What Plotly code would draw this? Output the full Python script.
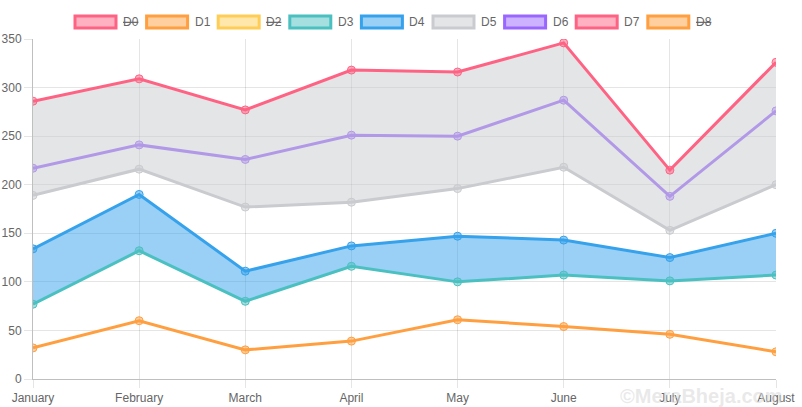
import plotly.graph_objects as go

months = ["January", "February", "March", "April", "May", "June", "July", "August"]
d1 = [32, 60, 30, 39, 61, 54, 46, 28]
d3 = [77, 132, 80, 116, 100, 107, 101, 107]
d4 = [134, 190, 111, 137, 147, 143, 125, 150]
d5 = [189, 216, 177, 182, 196, 218, 153, 200]
d6 = [217, 241, 226, 251, 250, 287, 188, 276]
d7 = [286, 309, 277, 318, 316, 346, 215, 326]

legend_names = ["D0", "D1", "D2", "D3", "D4", "D5", "D6", "D7", "D8"]
legend_hidden = [True, False, True, False, False, False, False, False, True]
y_ticks = [0, 50, 100, 150, 200, 250, 300, 350]

C = {
    "red": (255, 99, 132), "orange": (255, 159, 64), "yellow": (255, 205, 86),
    "green": (75, 192, 192), "blue": (54, 162, 235), "grey": (201, 203, 207),
    "purple": (153, 102, 255),
}
legend_colors = ["red", "orange", "yellow", "green", "blue", "grey", "purple", "red", "orange"]

def rgb(c, a=1.0):
    r, g, b = C[c]
    return f"rgba({r},{g},{b},{a})"

W, H = 802, 407
ML, MR, MT, MB = 33, 26, 39, 28
PW, PH = W - ML - MR, H - MT - MB

def px_x(px):
    return (px - ML) / PW

def px_y(py):
    return (H - MB - py) / PH

fig = go.Figure()

def line(y, c, fill=None, fillc=None):
    fig.add_trace(go.Scatter(
        x=months, y=y, mode="lines+markers", showlegend=False,
        line=dict(color=rgb(c), width=3),
        marker=dict(size=8, color=rgb(c, 0.5), line=dict(color=rgb(c), width=1)),
        fill=fill, fillcolor=fillc, hoverinfo="skip"))

line(d1, "orange")
line(d3, "green")
line(d4, "blue", "tonexty", rgb("blue", 0.5))
line(d6, "purple")
line(d7, "red")
line(d5, "grey", "tonexty", rgb("grey", 0.5))

# Chart.js style legend: boxes + labels
step = 71.6
for i, (name, hid, c) in enumerate(zip(legend_names, legend_hidden, legend_colors)):
    x0 = 75 + i * step
    fig.add_shape(type="rect", xref="paper", yref="paper",
                  x0=px_x(x0), x1=px_x(x0 + 41), y0=px_y(28), y1=px_y(16),
                  fillcolor=rgb(c, 0.5), line=dict(color=rgb(c), width=3))
    fig.add_annotation(xref="paper", yref="paper", x=px_x(x0 + 46), y=px_y(22),
                       text=f"<s>{name}</s>" if hid else name, showarrow=False,
                       xanchor="left", yanchor="middle",
                       font=dict(size=12, color="#666"))

fig.add_annotation(x=px_x(618), y=px_y(396), xref="paper", yref="paper", text="<b>©MeraBheja.com</b>",
                   showarrow=False, xanchor="left", yanchor="middle",
                   font=dict(family="Liberation Sans, Arial", size=20, color="rgba(215,215,215,0.55)"))

fig.update_layout(
    width=W, height=H,
    margin=dict(l=ML, r=MR, t=MT, b=MB, autoexpand=False),
    paper_bgcolor="white", plot_bgcolor="white",
    font=dict(family="Liberation Sans, Arial, Helvetica", size=12, color="#666"),
    showlegend=False,
)
fig.update_xaxes(type="category", range=[0, 7], showgrid=True, gridcolor="rgba(0,0,0,0.1)",
                 showline=True, linecolor="rgba(0,0,0,0.25)", linewidth=1,
                 ticks="outside", ticklen=8, tickcolor="rgba(0,0,0,0.1)", zeroline=False,
                 tickfont=dict(size=12, color="#666"), automargin=False)
fig.update_yaxes(range=[0, 350], tickvals=y_ticks, showgrid=True, gridcolor="rgba(0,0,0,0.1)",
                 showline=True, linecolor="rgba(0,0,0,0.25)", linewidth=1,
                 ticks="outside", ticklen=8, tickcolor="rgba(0,0,0,0.1)", zeroline=False,
                 tickfont=dict(size=12, color="#666"), automargin=False)

fig.write_html("out.html", config={"displayModeBar": False},
               post_script="document.body.style.margin='0';document.body.style.overflow='hidden';")
